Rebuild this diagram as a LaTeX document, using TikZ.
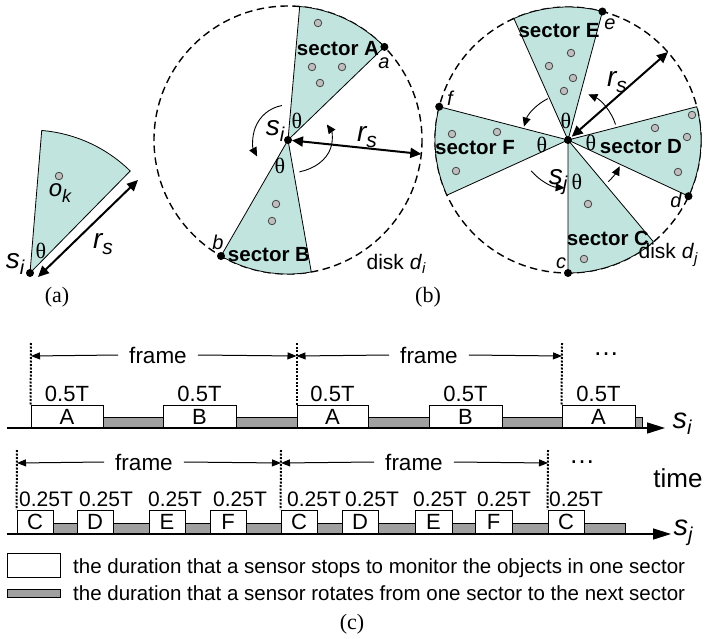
\documentclass[tikz,border=0pt]{standalone}
\usepackage{fontspec}
\setmainfont{Liberation Sans}
\newfontfamily\serf{Liberation Serif}
\usetikzlibrary{arrows.meta}
\definecolor{secfill}{RGB}{193,228,222}
\definecolor{objfill}{RGB}{190,190,190}
\definecolor{objline}{RGB}{70,70,70}
\definecolor{barfill}{RGB}{160,160,160}
\newcommand\vsb[4]{{\fontsize{#3}{#3}\selectfont\itshape #1\raisebox{-0.22em}{\fontsize{#4}{#4}\selectfont #2}}}
\begin{document}
\begin{tikzpicture}[x=1pt,y=-1pt,
 sec/.style={fill=secfill,draw=black,line width=0.8pt,line join=round},
 obj/.style={circle,fill=objfill,draw=objline,line width=0.8pt,inner sep=0pt,minimum size=7.5pt},
 pnt/.style={circle,fill=black,inner sep=0pt,minimum size=8pt},
 disk/.style={line width=1.4pt,dash pattern=on 7.5pt off 4.5pt},
 rot/.style={line width=0.9pt,-{Triangle[length=9pt,width=8pt]}},
 rsarr/.style={line width=2pt,{Triangle[length=11pt,width=10pt]}-{Triangle[length=11pt,width=10pt]}},
 lab/.style={inner sep=0pt,font=\fontsize{22}{24}\selectfont},
 qlab/.style={inner sep=0pt,font=\fontsize{21}{24}\selectfont},
 bold/.style={inner sep=0pt,font=\bfseries\fontsize{20.5}{22}\selectfont},
 pl/.style={inner sep=0pt,font=\itshape\fontsize{20}{22}\selectfont},
 plain/.style={inner sep=0pt,font=\fontsize{21}{22}\selectfont},
 th/.style={inner sep=0pt,font=\serf\fontsize{22}{24}\selectfont},
 captxt/.style={inner sep=0pt,font=\serf\fontsize{22}{24}\selectfont},
 var/.style={inner sep=0pt},
 wbox/.style={draw=black,fill=white,line width=0.9pt,inner sep=0pt,font=\fontsize{22}{24}\selectfont},
 gbar/.style={draw=black,fill=barfill,line width=0.9pt},
 taxis/.style={line width=1.4pt,-{Triangle[length=18pt,width=11pt]}},
 vdot/.style={line width=2pt,dash pattern=on 2pt off 1.5pt},
 farr/.style={line width=1pt,-{Triangle[length=9pt,width=7pt]}},
 fr/.style={inner xsep=11pt,inner ysep=0pt,font=\fontsize{22.5}{24}\selectfont},
 leg/.style={inner sep=0pt,font=\fontsize{20.5}{22}\selectfont}
]
\useasboundingbox (0,0) rectangle (706,639);

% ---------------- (a)
\coordinate (sa) at (30,273);
\draw[sec] (sa) -- ++(-45.5:143) arc[start angle=-45.5,end angle=-85.3,radius=143] -- cycle;
\node[obj] (ok) at (59,176) {};
\node[var] (okl) at (60,193) {\vsb{o}{k}{24}{18}};
\coordinate (rsa1) at (38,277);
\coordinate (rsa2) at (138,180);
\draw[rsarr] (rsa1) -- (rsa2);
\node[pnt] (sia) at (sa) {};
\node[var] (lsia) at (15,264) {\vsb{s}{i}{28}{20}};
\node[th] (tha) at (41,251) {θ};
\node[var] (rsal) at (103,244) {\vsb{r}{s}{28}{21}};
\node[captxt] (capa) at (57,297) {(a)};

% ---------------- (b)
\coordinate (cb) at (288,140);
\draw[disk] (cb) circle[radius=134];
\draw[sec] (cb) -- ++(-44:134) arc[start angle=-44,end angle=-85,radius=134] -- cycle;
\draw[sec] (cb) -- ++(-240:134) arc[start angle=-240,end angle=-280,radius=134] -- cycle;
\node[obj] (oa1) at (318,23) {};
\node[obj] (oa2) at (312,67) {};
\node[obj] (oa3) at (342,67) {};
\node[obj] (oa4) at (320,83) {};
\node[obj] (ob1) at (276,204) {};
\node[obj] (ob2) at (272,221) {};
\draw[rot] (cb) ++(-100:35) arc[start angle=-100,end angle=-208,radius=35];
\draw[rot] (cb) ++({44*cos(75)},{33*sin(75)}) arc[start angle=75,end angle=-28,x radius=44,y radius=33];
\coordinate (rb) at (421.3,154);
\draw[rsarr,shorten <=4pt] (cb) -- (rb);
\node[pnt] (ptA) at (384.4,46.9) {};
\node[pnt] (ptB) at (221,256) {};
\node[pnt] (sib) at (cb) {};
\node[var] (lsib) at (275,131) {\vsb{s}{i}{28}{20}};
\node[th] (thb1) at (297,121) {θ};
\node[th] (thb2) at (280,166) {θ};
\node[var] (rsbl) at (367,137) {\vsb{r}{s}{28}{21}};
\node[bold] (secA) at (338,49) {sector A};
\node[pl] (la) at (384,63) {a};
\node[pl] (lb) at (218,242) {b};
\node[bold] (secB) at (269,255) {sector B};
\node[plain] (diski) at (396,264) {disk \textit{d}\raisebox{-0.22em}{\fontsize{15}{15}\selectfont\itshape i}};
\node[captxt] (capb) at (428,297) {(b)};

% ---------------- (d)
\coordinate (cd) at (568,140);
\draw[disk] (cd) circle[radius=133];
\draw[sec] (cd) -- ++(-75:133) arc[start angle=-75,end angle=-114,radius=133] -- cycle;
\draw[sec] (cd) -- ++(25:133) arc[start angle=25,end angle=-14.5,radius=133] -- cycle;
\draw[sec] (cd) -- ++(90:133) arc[start angle=90,end angle=50,radius=133] -- cycle;
\draw[sec] (cd) -- ++(-165.5:133) arc[start angle=-165.5,end angle=-204.5,radius=133] -- cycle;
\node[obj] (oe1) at (571,53) {};
\node[obj] (oe2) at (549,66) {};
\node[obj] (oe3) at (573,78) {};
\node[obj] (oe4) at (564,91) {};
\node[obj] (od1) at (692,115) {};
\node[obj] (od2) at (655,128) {};
\node[obj] (od3) at (687,137) {};
\node[obj] (od4) at (678,172) {};
\node[obj] (of1) at (452,134) {};
\node[obj] (of2) at (497,132) {};
\node[obj] (of3) at (456,171) {};
\node[obj] (oc1) at (588,204) {};
\node[obj] (oc2) at (584,259) {};
\draw[rot] (cd) ++(-18:50) arc[start angle=-18,end angle=-66,radius=50];
\draw[rot] (cd) ++(-116:46) arc[start angle=-116,end angle=-163,radius=46];
\draw[rot] (cd) ++(-220:48) arc[start angle=-220,end angle=-266,radius=48];
\draw[rot] (cd) ++(46:58) arc[start angle=46,end angle=27,radius=58];
\coordinate (rd) at (668,52);
\draw[rsarr,shorten <=5pt] (cd) -- (rd);
\node[pnt] (ptE) at (602.4,11.5) {};
\node[pnt] (ptD) at (688.5,196.2) {};
\node[pnt] (ptC) at (568,273) {};
\node[pnt] (ptF) at (439.2,106.7) {};
\node[pnt] (sjd) at (cd) {};
\node[var] (lsjd) at (558,182) {\vsb{s}{j}{28}{20}};
\node[th] (thd1) at (566,121) {θ};
\node[th] (thd2) at (591,143) {θ};
\node[th] (thd3) at (542,145) {θ};
\node[th] (thd4) at (577,182) {θ};
\node[var] (rsdl) at (617,82) {\vsb{r}{s}{28}{21}};
\node[bold] (secE) at (559,31) {sector E};
\node[pl] (le) at (610,24) {e};
\node[bold] (secD) at (641,147) {sector D};
\node[pl] (ld) at (676,200) {d};
\node[bold] (secC) at (608,238) {sector C};
\node[pl] (lc) at (561,263) {c};
\node[plain] (diskj) at (668,255) {disk \textit{d}\raisebox{-0.22em}{\fontsize{15}{15}\selectfont\itshape j}};
\node[bold] (secF) at (475,148) {sector F};
\node[pl] (lf) at (450,98) {f};

% ---------------- (c) timeline s_i
\foreach \l/\r in {103/163,236/297,368/429,502/562,635/642}
  \draw[gbar] (\l,417) rectangle (\r,428);
\foreach \l/\r/\t/\n in {31/103/A/ia1,163/236/B/ib1,297/368/A/ia2,429/502/B/ib2,562/635/A/ia3}{
  \node[wbox,minimum width={(\r-\l)*1pt},minimum height=23pt] (\n) at ({(\l+\r)/2},416.5) {\t};
  \node[lab] (t\n) at ({(\l+\r)/2},393.5) {0.5T};
}
\coordinate (ai0) at (7,428);
\coordinate (ai1) at (665,428);
\draw[taxis] (ai0) -- (ai1);
\node[var] (lsit) at (682,424) {\vsb{s}{i}{29}{20}};
\coordinate (di1) at (31,356);
\coordinate (di2) at (296.5,356);
\coordinate (di3) at (562,356);
\draw[vdot] (31,343) -- (ia1.north west);
\draw[vdot] (296.5,343) -- (296.5,405);
\draw[vdot] (562,343) -- (ia3.north west);
\node[fr] (fi1) at (158,355) {frame};
\node[fr] (fi2) at (429,355) {frame};
\draw[farr] (fi1.west) -- (di1);
\draw[farr] (fi1.east) -- (di2);
\draw[farr] (fi2.west) -- (di2);
\draw[farr] (fi2.east) -- (di3);
\node[inner sep=0pt,font=\fontsize{26}{28}\selectfont] (doti) at (606,354) {…};

% ---------------- (c) timeline s_j
\foreach \l/\r in {53/77,113/149,185/210,246/281,317/342,378/415,452/475,512/548,584/625}
  \draw[gbar] (\l,523) rectangle (\r,534);
\foreach \l/\r/\t/\n/\p in {17/53/C/jc1/19,77/113/D/jd1/79,149/185/E/je1/148,210/246/F/jf1/213,281/317/C/jc2/287,342/378/D/jd2/345,415/452/E/je2/413,475/512/F/jf2/477,548/584/C/jc3/549}{
  \node[wbox,minimum width={(\r-\l)*1pt},minimum height=24pt] (\n) at ({(\l+\r)/2},522) {\t};
  \node[qlab,anchor=west] (t\n) at (\p,499.5) {0.25T};
}
\coordinate (aj0) at (7,534);
\coordinate (aj1) at (671,534);
\draw[taxis] (aj0) -- (aj1);
\node[var] (lsjt) at (683,533) {\vsb{s}{j}{29}{20}};
\node[inner sep=0pt,font=\fontsize{26}{28}\selectfont] (time) at (678,478) {time};
\coordinate (dj1) at (17,463);
\coordinate (dj2) at (281,463);
\coordinate (dj3) at (548,463);
\draw[vdot] (17,450) -- (jc1.north west);
\draw[vdot] (281,450) -- (jc2.north west);
\draw[vdot] (548,450) -- (jc3.north west);
\node[fr] (fj1) at (144,462) {frame};
\node[fr] (fj2) at (414,462) {frame};
\draw[farr] (fj1.west) -- (dj1);
\draw[farr] (fj1.east) -- (dj2);
\draw[farr] (fj2.west) -- (dj2);
\draw[farr] (fj2.east) -- (dj3);
\node[inner sep=0pt,font=\fontsize{26}{28}\selectfont] (dotj) at (582,462) {…};

% ---------------- legend
\node[wbox,minimum width=53pt,minimum height=24pt] (lw) at (33.5,565) {};
\node[gbar,minimum width=53pt,minimum height=8pt,inner sep=0pt] (lg) at (33.5,593) {};
\node[leg,anchor=base west] (lt1) at (73,573) {the duration that a sensor stops to monitor the objects in one sector};
\node[leg,anchor=base west] (lt2) at (73,600) {the duration that a sensor rotates from one sector to the next sector};
\node[captxt] (capc) at (352,624) {(c)};
\end{tikzpicture}
\end{document}
